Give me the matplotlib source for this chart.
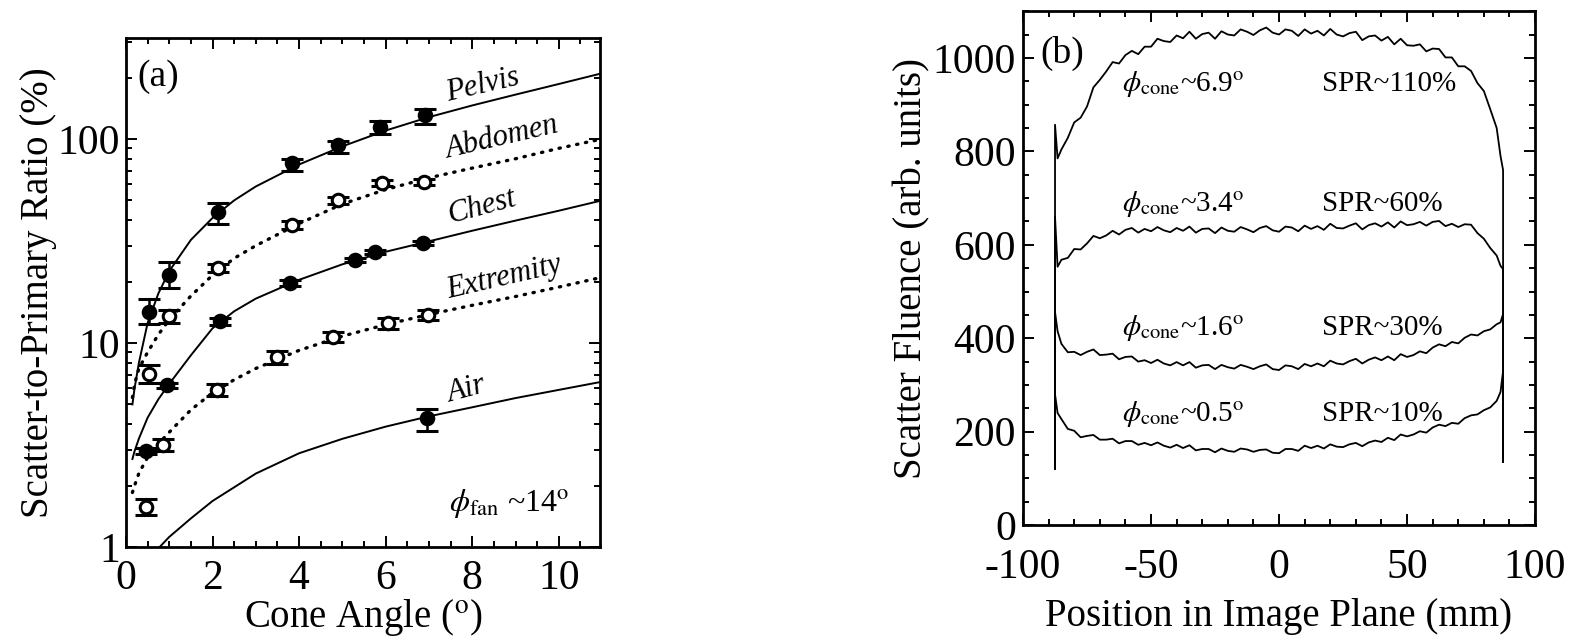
import numpy as np
import matplotlib
matplotlib.use('Agg')
import matplotlib.pyplot as plt
from matplotlib.ticker import MultipleLocator, LogLocator, FixedLocator, FixedFormatter, NullFormatter

plt.rcParams['font.family'] = ['Liberation Serif', 'DejaVu Serif']
plt.rcParams['mathtext.fontset'] = 'stix'
plt.rcParams['axes.unicode_minus'] = False

# ---- panel (a): SPR vs cone angle ----
pelvis_x = [0.53, 0.99, 2.12, 3.83, 4.91, 5.87, 6.90]
pelvis_y = [14.2, 21.5, 44.0, 76.0, 93.0, 114.0, 131.0]
pelvis_lo = [12.4, 18.5, 38.5, 70.0, 85.0, 106.0, 119.0]
pelvis_hi = [16.5, 24.9, 48.3, 80.0, 98.0, 123.0, 140.0]

abdomen_x = [0.53, 0.99, 2.12, 3.83, 4.91, 5.92, 6.88]
abdomen_y = [7.05, 13.5, 23.3, 37.9, 50.0, 60.8, 61.6]
abdomen_lo = [6.4, 12.6, 22.2, 36.3, 48.2, 58.6, 59.4]
abdomen_hi = [7.8, 14.5, 24.4, 39.6, 51.9, 63.0, 63.8]

chest_x = [0.47, 0.95, 2.17, 3.80, 5.29, 5.75, 6.86]
chest_y = [2.95, 6.2, 12.8, 19.7, 25.5, 27.9, 30.9]
chest_lo = [2.85, 6.0, 12.3, 19.1, 24.9, 27.2, 30.1]
chest_hi = [3.05, 6.4, 13.3, 20.3, 26.1, 28.6, 31.7]

extremity_x = [0.47, 0.85, 2.10, 3.50, 4.78, 6.05, 6.97]
extremity_y = [1.57, 3.16, 5.9, 8.5, 10.7, 12.5, 13.7]
extremity_lo = [1.43, 2.95, 5.5, 7.9, 10.1, 11.7, 12.9]
extremity_hi = [1.72, 3.38, 6.3, 9.1, 11.3, 13.3, 14.5]

air_x = [6.95]
air_y = [4.29]
air_lo = [3.7]
air_hi = [4.75]

# fitted curves
fit_x = [0.15, 0.2, 0.3, 0.5, 0.75, 1, 1.5, 2, 2.5, 3, 4, 5, 6, 7, 8, 9, 10, 11]
pelvis_fit = [5.0, 6.0, 8.0, 12.5, 17.5, 22.5, 32, 41, 50, 58.5, 75, 92, 110, 128, 146, 165, 186, 210]
abdomen_fit = [5.4, 6.3, 7.5, 9.0, 11.0, 13.0, 17.0, 21.5, 26, 30, 38.5, 48, 56.5, 64.5, 72, 80, 90, 100]
chest_fit = [2.7, 2.95, 3.4, 4.3, 5.3, 6.3, 8.7, 11.8, 14.3, 16.5, 20.4, 24.3, 28, 31.5, 35.5, 39.8, 44.5, 50]
extremity_fit = [1.85, 2.0, 2.3, 2.75, 3.2, 3.65, 4.7, 5.7, 6.6, 7.5, 9.2, 10.8, 12.3, 13.8, 15.3, 16.9, 18.8, 21]
air_fit_x = [0.78, 1, 1.5, 2, 3, 4, 5, 6, 7, 8, 9, 10, 11]
air_fit = [1.0, 1.12, 1.38, 1.68, 2.29, 2.88, 3.39, 3.89, 4.37, 4.84, 5.37, 5.89, 6.46]

# ---- panel (b): scatter profiles, -85..85 mm plus detector edges ----
edge_left = [-87.5, -87.5, -86.5]
edge_right = [86.5, 87.5, 87.5]

c69_left = [120, 857, 785]
c69_mid = [804, 829, 862, 872, 896, 937, 953, 971, 991, 988,
           1006, 1015, 1008, 1024, 1024, 1041, 1036, 1034, 1048, 1042,
           1056, 1041, 1051, 1054, 1041, 1057, 1050, 1048, 1061, 1056,
           1049, 1059, 1065, 1054, 1050, 1061, 1058, 1047, 1061, 1052,
           1058, 1048, 1062, 1050, 1046, 1053, 1056, 1038, 1046, 1048,
           1037, 1045, 1029, 1041, 1027, 1026, 1029, 1014, 1020, 1019,
           1001, 1001, 982, 982, 972, 946, 929, 890, 850]
c69_right = [790, 760, 135]

c34_left = [120, 660, 553]
c34_mid = [568, 572, 591, 590, 603, 619, 614, 620, 630, 622,
           632, 636, 626, 634, 629, 638, 631, 627, 636, 630,
           639, 626, 634, 635, 625, 637, 630, 628, 638, 633,
           627, 636, 640, 631, 628, 639, 637, 629, 641, 634,
           640, 632, 645, 636, 635, 641, 646, 633, 642, 646,
           639, 648, 637, 650, 642, 644, 649, 641, 649, 651,
           640, 645, 638, 644, 643, 625, 613, 593, 577]
c34_right = [555, 548, 135]

c16_left = [120, 456, 415]
c16_mid = [388, 370, 371, 364, 371, 376, 364, 365, 367, 355,
           360, 361, 350, 353, 347, 354, 346, 342, 349, 342,
           349, 337, 342, 343, 334, 343, 338, 335, 343, 339,
           334, 340, 344, 334, 332, 342, 340, 334, 345, 340,
           346, 340, 352, 346, 344, 351, 356, 346, 354, 359,
           353, 361, 353, 366, 360, 364, 372, 368, 380, 387,
           383, 392, 389, 401, 408, 406, 415, 419, 430]
c16_right = [434, 452, 135]

c05_left = [120, 280, 240]
c05_mid = [227, 206, 202, 188, 191, 193, 183, 183, 185, 175,
           180, 180, 172, 176, 171, 177, 170, 166, 172, 165,
           171, 160, 163, 163, 156, 164, 159, 157, 164, 162,
           157, 161, 162, 155, 154, 163, 163, 159, 170, 165,
           170, 164, 173, 168, 167, 173, 176, 169, 177, 181,
           178, 187, 182, 194, 190, 194, 201, 198, 209, 215,
           212, 219, 217, 229, 235, 237, 246, 252, 266]
c05_right = [285, 330, 135]

fig = plt.figure(figsize=(15.78, 6.42), dpi=100)
ax1 = fig.add_axes([0.0798, 0.148, 0.3004, 0.793])
ax2 = fig.add_axes([0.6483, 0.182, 0.3245, 0.8006])

dot = (0, (0.4, 2.3))
ax1.plot(fit_x, pelvis_fit, 'k-', lw=1.4)
ax1.plot(fit_x, abdomen_fit, color='k', ls=dot, lw=2.4, dash_capstyle='round')
ax1.plot(fit_x, chest_fit, 'k-', lw=1.4)
ax1.plot(fit_x, extremity_fit, color='k', ls=dot, lw=2.4, dash_capstyle='round')
ax1.plot(air_fit_x, air_fit, 'k-', lw=1.4)

def bars(ax, x, y, lo, hi, filled):
    y = np.array(y)
    err = [y - np.array(lo), np.array(hi) - y]
    ax.errorbar(x, y, yerr=err, fmt='o', ms=9, mfc='k' if filled else 'white',
                mec='k', mew=2.2, ecolor='k', elinewidth=1.8, capsize=8,
                capthick=2.6, zorder=5)

bars(ax1, pelvis_x, pelvis_y, pelvis_lo, pelvis_hi, True)
bars(ax1, abdomen_x, abdomen_y, abdomen_lo, abdomen_hi, False)
bars(ax1, chest_x, chest_y, chest_lo, chest_hi, True)
bars(ax1, extremity_x, extremity_y, extremity_lo, extremity_hi, False)
bars(ax1, air_x, air_y, air_lo, air_hi, True)

ax1.set_yscale('log')
ax1.set_xlim(0, 10.95)
ax1.set_ylim(1, 313)
ax1.xaxis.set_major_locator(MultipleLocator(2))
ax1.xaxis.set_minor_locator(MultipleLocator(0.5))
ax1.yaxis.set_major_locator(FixedLocator([1, 10, 100]))
ax1.yaxis.set_major_formatter(FixedFormatter(['1', '10', '100']))
ax1.yaxis.set_minor_locator(LogLocator(subs=np.arange(2, 10)))
ax1.yaxis.set_minor_formatter(NullFormatter())

it = dict(style='italic', fontsize=22, ha='center', va='center')
ax1.text(8.25, 184, 'Pelvis', rotation=13, **it)
ax1.text(8.7, 101, 'Abdomen', rotation=13, **it)
ax1.text(8.22, 46.4, 'Chest', rotation=15, **it)
ax1.text(8.75, 20.8, 'Extremity', rotation=13, **it)
ax1.text(7.87, 5.9, 'Air', rotation=15, **it)
ax1.text(8.85, 1.64, r'$\phi_{\rm fan}$ ~14$^{\rm o}$', fontsize=23, ha='center', va='center')
ax1.text(0.025, 0.905, '(a)', transform=ax1.transAxes, fontsize=27, va='baseline')

ax1.set_xlabel(r'Cone Angle ($^{\rm o}$)', fontsize=28)
ax1.set_ylabel('Scatter-to-Primary Ratio (%)', fontsize=28)
ax1.yaxis.set_label_coords(-0.145, 0.5)
ax1.xaxis.set_label_coords(0.5, -0.098)

for left, mid, right in [(c69_left, c69_mid, c69_right), (c34_left, c34_mid, c34_right),
                         (c16_left, c16_mid, c16_right), (c05_left, c05_mid, c05_right)]:
    pos = np.concatenate([edge_left, np.linspace(-85, 85, len(mid)), edge_right])
    ax2.plot(pos, left + mid + right, 'k-', lw=1.3)

ax2.set_xlim(-100, 100)
ax2.set_ylim(0, 1100)
ax2.xaxis.set_major_locator(MultipleLocator(50))
ax2.xaxis.set_minor_locator(MultipleLocator(10))
ax2.yaxis.set_major_locator(MultipleLocator(200))
ax2.yaxis.set_minor_locator(MultipleLocator(50))

lbl = dict(fontsize=21, va='baseline')
ax2.text(-61.5, 930, r'$\phi_{\rm cone}$~6.9$^{\rm o}$', **lbl)
ax2.text(16.8, 930, 'SPR~110%', **lbl)
ax2.text(-61.5, 673, r'$\phi_{\rm cone}$~3.4$^{\rm o}$', **lbl)
ax2.text(16.8, 673, 'SPR~60%', **lbl)
ax2.text(-61.5, 406, r'$\phi_{\rm cone}$~1.6$^{\rm o}$', **lbl)
ax2.text(16.8, 406, 'SPR~30%', **lbl)
ax2.text(-61.5, 222, r'$\phi_{\rm cone}$~0.5$^{\rm o}$', **lbl)
ax2.text(16.8, 222, 'SPR~10%', **lbl)
ax2.text(0.033, 0.9, '(b)', transform=ax2.transAxes, fontsize=27, va='baseline')

ax2.set_xlabel('Position in Image Plane (mm)', fontsize=28)
ax2.set_ylabel('Scatter Fluence (arb. units)', fontsize=28)
ax2.yaxis.set_label_coords(-0.18, 0.5)
ax2.xaxis.set_label_coords(0.5, -0.142)

for ax in (ax1, ax2):
    for s in ax.spines.values():
        s.set_linewidth(2)
    ax.tick_params(which='both', direction='in', top=True, right=True, width=1.4)
    ax.tick_params(which='major', length=8, labelsize=30, pad=9)
    ax.tick_params(which='minor', length=4)
ax1.tick_params(axis='y', which='major', pad=4)
ax2.tick_params(axis='y', which='major', pad=5)
ax2.tick_params(axis='x', which='major', pad=17)

fig.savefig('out.png', dpi=100)
